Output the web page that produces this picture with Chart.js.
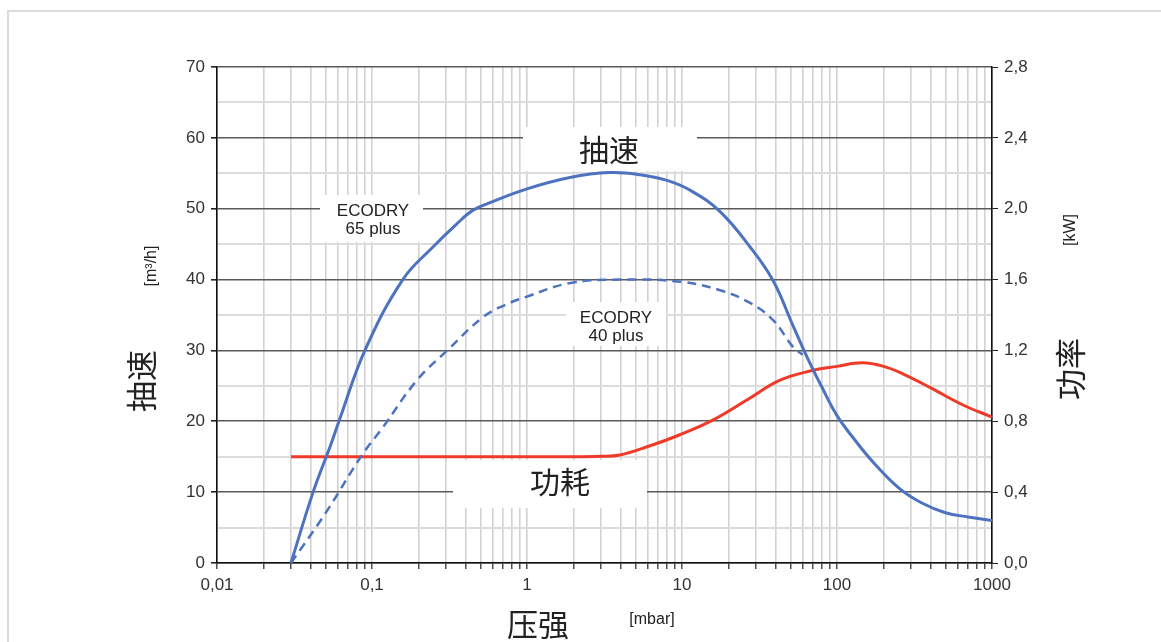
<!DOCTYPE html>
<html>
<head>
<meta charset="utf-8">
<script src="https://cdn.jsdelivr.net/npm/chart.js@4/dist/chart.umd.min.js"></script>
<style>
  html, body { margin:0; padding:0; background:#fff; }
  #wrap { position:relative; width:1161px; height:642px; }
  #frame { position:absolute; left:7px; top:10px; right:0; bottom:-4px; border-top:2px solid #dcdcdc; border-left:2px solid #dcdcdc; }
  canvas { position:absolute; left:0; top:0; }
</style>
</head>
<body>
<div id="wrap">
  <div id="frame"></div>
  <canvas id="c" width="1161" height="642"></canvas>
</div>
<script>
// 抽速 ECODRY 65 plus  [mbar] -> [m3/h]
const P65 = [0.03, 0.0417, 0.0536, 0.0612, 0.09, 0.158, 0.25, 0.35, 0.449, 0.6, 1.0, 1.89, 3.4, 5.36, 8, 11.3, 17.6, 27.5, 38.6, 52, 64, 80, 100, 130, 170, 250, 350, 500, 700, 1000];
const S65 = [0, 10, 16.4, 20, 30, 40, 44.7, 47.8, 49.8, 51, 52.8, 54.4, 55.1, 54.8, 54, 52.6, 49.6, 44.6, 39.9, 33.5, 29.1, 24.8, 20.8, 17.4, 14.3, 10.6, 8.5, 7.1, 6.5, 6.0];

// 抽速 ECODRY 40 plus
const P40 = [0.03, 0.05, 0.086, 0.118, 0.195, 0.306, 0.52, 0.72, 1.0, 1.89, 4, 9.7, 17.6, 27.5, 38.6, 52, 60];
const S40 = [0, 7.0, 15.2, 19.2, 25.8, 30, 34.7, 36.4, 37.6, 39.5, 40, 39.7, 38.5, 36.7, 34.3, 30.5, 29.4];

// 功耗 [kW]
const PPW = [0.03, 2.2, 3, 3.98, 5.95, 9.7, 15.9, 26.2, 42.9, 70, 100, 145, 200, 270, 400, 650, 1000];
const KW  = [0.6, 0.6, 0.602, 0.61, 0.656, 0.724, 0.808, 0.92, 1.032, 1.088, 1.11, 1.13, 1.11, 1.065, 0.99, 0.892, 0.824];

const X_DECADES = [0.01, 0.1, 1, 10, 100];
const X_MAX = 1000;
const Y_MAX = 70, Y_STEP = 5;
const KW_MAX = 2.8, KW_STEP = 0.4;

const BLUE = '#4d72bf';
const RED = '#f03a28';
const INK = '#333';
const FONT = '"Liberation Sans", Arial, sans-serif';
const CJK = '"Noto Sans CJK SC", sans-serif';

function pts(xs, ys){ return xs.map((x,i)=>({x:x, y:ys[i]})); }
function comma(v, d){ return v.toFixed(d).replace('.', ','); }

// white label boxes over the grid + their text
const boxes = [
  { x0:523, y0:127, x1:697, y1:171, lines:['抽速'], font:'30px '+CJK, cx:609, cy:[150] },
  { x0:453, y0:460, x1:647, y1:508, lines:['功耗'], font:'30px '+CJK, cx:560, cy:[482] },
  { x0:320, y0:195, x1:423, y1:242, lines:['ECODRY','65 plus'], font:'17px '+FONT, cx:373, cy:[211, 229] },
  { x0:566, y0:302, x1:666, y1:346, lines:['ECODRY','40 plus'], font:'17px '+FONT, cx:616, cy:[318, 336] }
];

const labelPlugin = {
  id:'labels',
  beforeDatasetsDraw(chart){
    const ctx = chart.ctx;
    ctx.save();
    boxes.forEach(b=>{
      ctx.fillStyle = '#fff';
      ctx.fillRect(b.x0, b.y0, b.x1-b.x0, b.y1-b.y0);
      ctx.fillStyle = '#222';
      ctx.font = b.font;
      ctx.textAlign = 'center';
      ctx.textBaseline = 'middle';
      b.lines.forEach((t,i)=>ctx.fillText(t, b.cx, b.cy[i]));
    });
    ctx.restore();
  },
  afterDraw(chart){
    const ctx = chart.ctx;
    ctx.save();
    ctx.fillStyle = '#222';
    ctx.textAlign = 'center';
    ctx.textBaseline = 'middle';
    function vtext(t, x, y, f){
      ctx.save(); ctx.translate(x, y); ctx.rotate(-Math.PI/2);
      ctx.font = f; ctx.fillText(t, 0, 0); ctx.restore();
    }
    vtext('抽速', 141, 381, '31px '+CJK);
    vtext('[m³/h]', 152, 266, '16px '+FONT);
    vtext('功率', 1070, 369, '31px '+CJK);
    vtext('[kW]', 1071, 230, '16px '+FONT);
    ctx.font = '31px '+CJK;
    ctx.fillText('压强', 538, 624);
    ctx.font = '16px '+FONT;
    ctx.fillText('[mbar]', 652, 620);
    ctx.restore();
  }
};

const xTicks = [];
X_DECADES.forEach(d=>{ for (let k=1;k<=9;k++) xTicks.push(+(d*k).toPrecision(3)); });
xTicks.push(X_MAX);
const isDecade = v => X_DECADES.includes(v) || v === X_MAX;

new Chart(document.getElementById('c'), {
  type:'line',
  data:{ datasets:[
    { label:'ECODRY 65 plus', data:pts(P65,S65), yAxisID:'y', borderColor:BLUE, borderWidth:3, pointRadius:0, tension:0.4, fill:false },
    { label:'ECODRY 40 plus', data:pts(P40,S40), yAxisID:'y', borderColor:BLUE, borderWidth:2.5, borderDash:[9,6], pointRadius:0, tension:0.4, fill:false },
    { label:'功耗', data:pts(PPW,KW), yAxisID:'y2', borderColor:RED, borderWidth:3, pointRadius:0, tension:0.4, fill:false }
  ]},
  options:{
    responsive:false, animation:false,
    layout:{ padding:{ top:67, left:0, right:0, bottom:0 } },
    plugins:{ legend:{display:false}, tooltip:{enabled:false} },
    scales:{
      x:{
        type:'logarithmic', min:0.01, max:X_MAX,
        afterBuildTicks(s){ s.ticks = xTicks.map(v=>({value:v, major:isDecade(v)})); },
        afterFit(s){ s.height = 79; },
        ticks:{ autoSkip:false, maxRotation:0, color:INK, font:{family:FONT, size:17}, padding:6,
          callback(v){ return isDecade(v) ? String(v).replace('.', ',') : ''; } },
        grid:{ color:'#d2d2d2', lineWidth:1.6, tickLength:6, tickColor:'#222', tickWidth:1.2 },
        border:{ color:'#111', width:1.6 }
      },
      y:{
        position:'left', min:0, max:Y_MAX,
        afterFit(s){ s.width = 217; },
        ticks:{ stepSize:Y_STEP, color:INK, font:{family:FONT, size:17}, padding:6,
          callback(v){ return v % 10 === 0 ? String(v) : ''; } },
        grid:{
          color:c=> c.tick && c.tick.value % 10 === 0 ? '#5a5a5a' : '#dcdcdc',
          lineWidth:c=> c.tick && c.tick.value % 10 === 0 ? 1.6 : 2,
          tickLength:6,
          tickColor:c=> c.tick && c.tick.value % 10 === 0 ? '#222' : 'rgba(0,0,0,0)'
        },
        border:{ color:'#111', width:1.6 }
      },
      y2:{
        position:'right', min:0, max:KW_MAX,
        afterFit(s){ s.width = 169; },
        ticks:{ stepSize:KW_STEP, color:INK, font:{family:FONT, size:17}, padding:6,
          callback(v){ return comma(v, 1); } },
        grid:{ drawOnChartArea:false, tickLength:6, tickColor:'#222' },
        border:{ color:'#111', width:1.6 }
      }
    }
  },
  plugins:[labelPlugin]
});
</script>
</body>
</html>
